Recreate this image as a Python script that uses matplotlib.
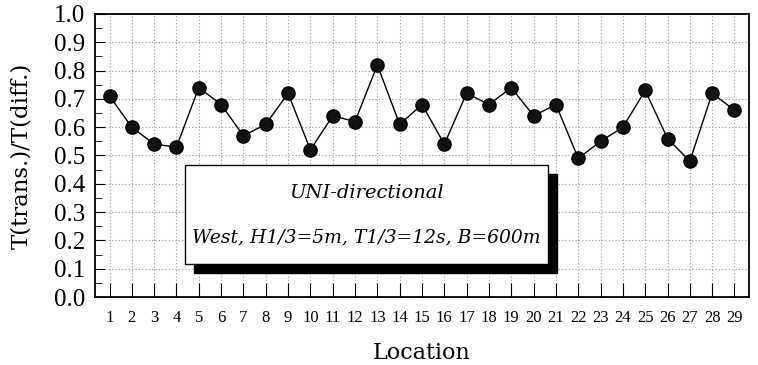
import matplotlib.pyplot as plt
from matplotlib.patches import Rectangle
from matplotlib.ticker import MultipleLocator

plt.rcParams['font.family'] = ['Liberation Serif', 'DejaVu Serif']

# data
location = list(range(1, 30))
ratio = [0.71, 0.60, 0.54, 0.53, 0.74, 0.68, 0.57, 0.61, 0.72, 0.52,
         0.64, 0.62, 0.82, 0.61, 0.68, 0.54, 0.72, 0.68, 0.74, 0.64,
         0.68, 0.49, 0.55, 0.60, 0.73, 0.56, 0.48, 0.72, 0.66]
line1 = 'UNI-directional'
line2 = 'West, H1/3=5m, T1/3=12s, B=600m'

fig = plt.figure(figsize=(7.58, 3.65), dpi=100)
ax = fig.add_axes([95/758, 1 - 297/365, 654/758, 283/365])

ax.plot(location, ratio, color='black', lw=1.0, marker='o',
        markersize=9.5, markerfacecolor='#111111', markeredgecolor='black', zorder=5)

ax.set_xlim(0.35, 29.65)
ax.set_ylim(0, 1.0)
ax.set_xticks(location)
ax.yaxis.set_major_locator(MultipleLocator(0.1))
ax.yaxis.set_minor_locator(MultipleLocator(0.05))
ax.set_yticklabels([f'{v:.1f}' for v in ax.get_yticks()])

# dotted grid, lighter than the line
ax.grid(True, which='major', ls=(0, (1, 2)), color='#999999', lw=0.8)
ax.tick_params(axis='x', direction='in', length=10, labelsize=12, pad=9)
ax.tick_params(axis='y', which='major', direction='in', length=7, labelsize=18, pad=7)
ax.tick_params(axis='y', which='minor', direction='in', length=5)
for s in ax.spines.values():
    s.set_linewidth(1.3)

serif = ['DejaVu Serif']
ax.set_xlabel('Location', fontsize=16, labelpad=12, family=serif)
ax.set_ylabel('T(trans.)/T(diff.)', fontsize=16.5, labelpad=16, family=serif)

# text box with shadow
bx, by, bw, bh = 0.138, 0.117, 0.555, 0.349
ax.add_patch(Rectangle((bx + 0.014, by - 0.032), bw, bh, transform=ax.transAxes,
                       facecolor='black', edgecolor='black', zorder=6))
ax.add_patch(Rectangle((bx, by), bw, bh, transform=ax.transAxes,
                       facecolor='white', edgecolor='black', lw=1.0, zorder=7))
ax.text(bx + bw / 2, 0.367, line1, transform=ax.transAxes, ha='center', va='center',
        fontsize=14, style='italic', family=serif, zorder=8)
ax.text(bx + bw / 2, 0.21, line2, transform=ax.transAxes, ha='center', va='center',
        fontsize=13.5, style='italic', family=serif, zorder=8)

fig.savefig('out.png', dpi=100)
